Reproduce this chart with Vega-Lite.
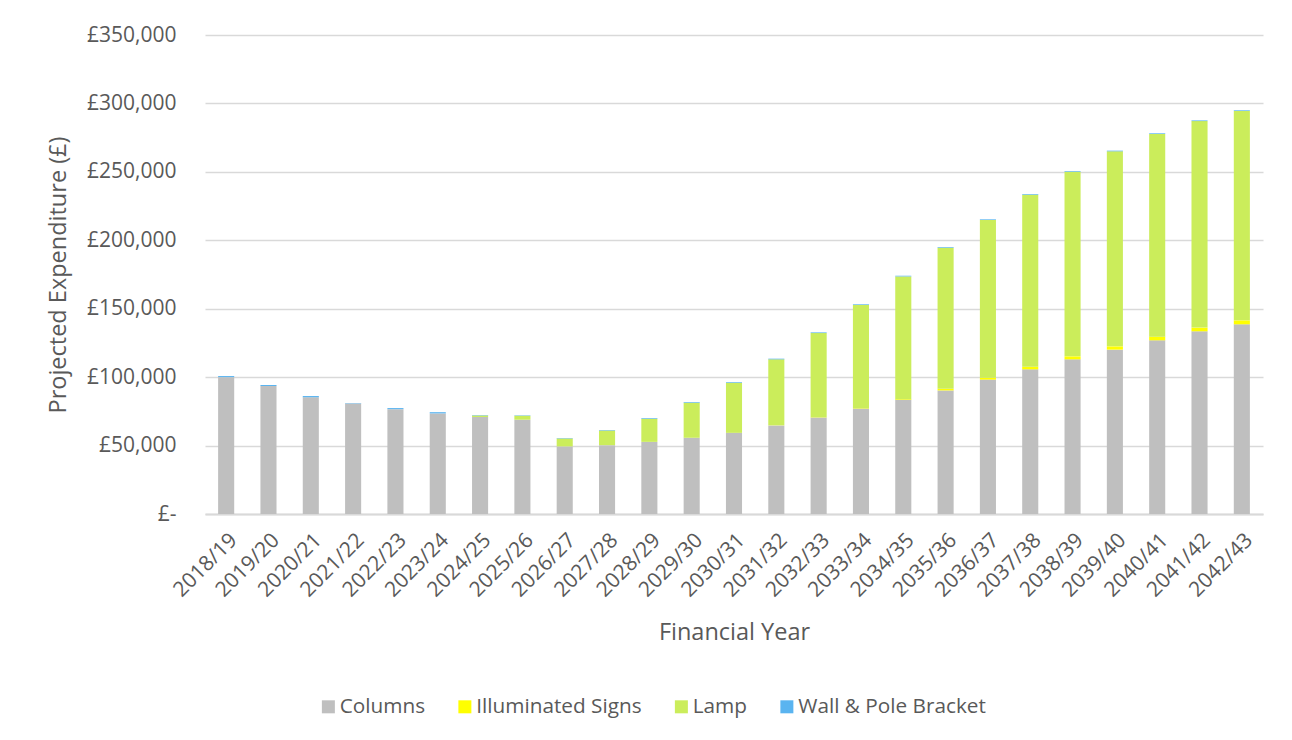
{
  "$schema": "https://vega.github.io/schema/vega-lite/v6.json",
  "autosize": "none",
  "width": 1058,
  "height": 479,
  "padding": {"left": 205, "top": 35, "right": 29, "bottom": 226},
  "background": "white",
  "config": {
    "font": "Open Sans",
    "view": {"stroke": null},
    "axis": {"labelColor": "#595959", "titleColor": "#595959", "labelFont": "Open Sans", "titleFont": "Open Sans", "titleFontWeight": "normal"},
    "legend": {"labelColor": "#595959", "labelFont": "Open Sans"}
  },
  "data": {
    "values": [
      {"year": "2018/19", "Columns": 100000, "Illuminated Signs": 0, "Lamp": 0, "Wall & Pole Bracket": 800},
      {"year": "2019/20", "Columns": 93600, "Illuminated Signs": 0, "Lamp": 0, "Wall & Pole Bracket": 600},
      {"year": "2020/21", "Columns": 85300, "Illuminated Signs": 0, "Lamp": 0, "Wall & Pole Bracket": 900},
      {"year": "2021/22", "Columns": 80800, "Illuminated Signs": 0, "Lamp": 0, "Wall & Pole Bracket": 300},
      {"year": "2022/23", "Columns": 76600, "Illuminated Signs": 0, "Lamp": 0, "Wall & Pole Bracket": 800},
      {"year": "2023/24", "Columns": 73500, "Illuminated Signs": 0, "Lamp": 0, "Wall & Pole Bracket": 900},
      {"year": "2024/25", "Columns": 70900, "Illuminated Signs": 0, "Lamp": 1100, "Wall & Pole Bracket": 300},
      {"year": "2025/26", "Columns": 68900, "Illuminated Signs": 0, "Lamp": 2900, "Wall & Pole Bracket": 300},
      {"year": "2026/27", "Columns": 49400, "Illuminated Signs": 0, "Lamp": 5800, "Wall & Pole Bracket": 300},
      {"year": "2027/28", "Columns": 50300, "Illuminated Signs": 0, "Lamp": 10700, "Wall & Pole Bracket": 400},
      {"year": "2028/29", "Columns": 52700, "Illuminated Signs": 0, "Lamp": 16900, "Wall & Pole Bracket": 500},
      {"year": "2029/30", "Columns": 55700, "Illuminated Signs": 0, "Lamp": 25600, "Wall & Pole Bracket": 500},
      {"year": "2030/31", "Columns": 59300, "Illuminated Signs": 0, "Lamp": 36600, "Wall & Pole Bracket": 500},
      {"year": "2031/32", "Columns": 64700, "Illuminated Signs": 100, "Lamp": 48200, "Wall & Pole Bracket": 500},
      {"year": "2032/33", "Columns": 70500, "Illuminated Signs": 200, "Lamp": 61500, "Wall & Pole Bracket": 500},
      {"year": "2033/34", "Columns": 77000, "Illuminated Signs": 300, "Lamp": 75400, "Wall & Pole Bracket": 500},
      {"year": "2034/35", "Columns": 83400, "Illuminated Signs": 500, "Lamp": 89700, "Wall & Pole Bracket": 500},
      {"year": "2035/36", "Columns": 90300, "Illuminated Signs": 1200, "Lamp": 103100, "Wall & Pole Bracket": 500},
      {"year": "2036/37", "Columns": 98200, "Illuminated Signs": 1400, "Lamp": 115200, "Wall & Pole Bracket": 500},
      {"year": "2037/38", "Columns": 105700, "Illuminated Signs": 1900, "Lamp": 125700, "Wall & Pole Bracket": 500},
      {"year": "2038/39", "Columns": 113000, "Illuminated Signs": 2200, "Lamp": 134900, "Wall & Pole Bracket": 500},
      {"year": "2039/40", "Columns": 120100, "Illuminated Signs": 2400, "Lamp": 142500, "Wall & Pole Bracket": 500},
      {"year": "2040/41", "Columns": 126900, "Illuminated Signs": 2700, "Lamp": 148100, "Wall & Pole Bracket": 500},
      {"year": "2041/42", "Columns": 133500, "Illuminated Signs": 2700, "Lamp": 150900, "Wall & Pole Bracket": 500},
      {"year": "2042/43", "Columns": 138600, "Illuminated Signs": 2900, "Lamp": 153000, "Wall & Pole Bracket": 500}
    ]
  },
  "transform": [
    {"fold": ["Columns", "Illuminated Signs", "Lamp", "Wall & Pole Bracket"], "as": ["category", "value"]}
  ],
  "mark": {"type": "bar"},
  "encoding": {
    "x": {
      "field": "year", "type": "nominal", "sort": null,
      "scale": {"paddingInner": 0.62, "paddingOuter": 0.31},
      "axis": {
        "title": "Financial Year", "titleFontSize": 23.5, "titlePadding": 20,
        "labelAngle": -45, "labelFontSize": 21, "labelPadding": 15,
        "ticks": false, "domainColor": "#d9d9d9", "domainWidth": 2, "grid": false
      }
    },
    "y": {
      "field": "value", "type": "quantitative", "stack": "zero",
      "scale": {"domain": [0, 350000], "nice": false},
      "axis": {
        "title": "Projected Expenditure (£)", "titleFontSize": 23.5, "titlePadding": 16,
        "values": [0, 50000, 100000, 150000, 200000, 250000, 300000, 350000],
        "labelExpr": "datum.value === 0 ? '£-' : '£' + format(datum.value, ',')",
        "labelFontSize": 21, "labelPadding": 29,
        "ticks": false, "domain": false,
        "grid": true, "gridColor": "#d9d9d9", "gridWidth": 1.5
      }
    },
    "color": {
      "field": "category", "type": "nominal",
      "scale": {
        "domain": ["Columns", "Illuminated Signs", "Lamp", "Wall & Pole Bracket"],
        "range": ["#bfbfbf", "#ffff00", "#cbed5b", "#5ab4f0"]
      },
      "legend": {
        "title": null, "orient": "none", "direction": "horizontal",
        "legendX": 113, "legendY": 661,
        "symbolType": "square", "symbolSize": 169, "symbolStrokeWidth": 0,
        "labelFontSize": 20.75, "labelOffset": 1, "columnPadding": 28.5, "labelLimit": 0
      }
    },
    "order": {"field": "category", "sort": "ascending"}
  }
}
